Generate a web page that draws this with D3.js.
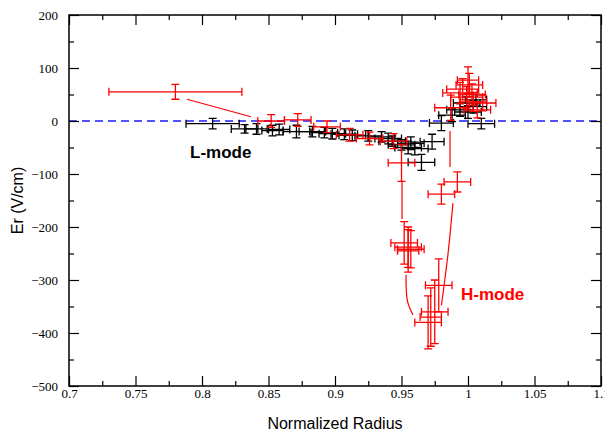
<!DOCTYPE html>
<html>
<head>
<meta charset="utf-8">
<script src="https://cdn.jsdelivr.net/npm/d3@7"></script>
<style>
  body { margin: 0; background: #fff; }
  svg text.tick-label { font-family: "Liberation Serif", serif !important; font-size: 13px !important; }
</style>
</head>
<body>
<div id="chart"></div>
<script>
// Size of the canvas
var width = 605, height = 434;
var margin = {top: 15, right: 4, bottom: 48, left: 69};

// Each point: [radius, Er, radius error, Er error]
var lModePoints = [
  [0.808, -5, 0.02, 10], [0.832, -15, 0.01, 8], [0.841, -15, 0.008, 10],
  [0.853, -18, 0.008, 10], [0.858, -16, 0.008, 10], [0.871, -20, 0.01, 12],
  [0.883, -20, 0.01, 10], [0.892, -22, 0.01, 10], [0.907, -25, 0.01, 10],
  [0.913, -27, 0.01, 10], [0.925, -28, 0.01, 10], [0.935, -30, 0.01, 10],
  [0.943, -38, 0.01, 10], [0.950, -45, 0.01, 10], [0.955, -50, 0.01, 12],
  [0.960, -52, 0.01, 12], [0.965, -78, 0.01, 15], [0.973, -39, 0.009, 14],
  [0.980, -4, 0.009, 14], [0.988, 11, 0.01, 12], [0.994, 21, 0.01, 12],
  [0.999, 34, 0.01, 12], [1.000, 17, 0.01, 12], [1.004, 27, 0.01, 12],
  [1.010, -5, 0.01, 10], [1.006, 40, 0.008, 10],
  [0.898, -24, 0.01, 10], [0.940, -33, 0.01, 10], [0.957, -42, 0.01, 12]
];

var redEdgePoints = [
  [0.780, 55, 0.05, 14], [0.852, 0, 0.01, 12], [0.872, 2, 0.01, 12],
  [0.894, -11, 0.01, 11], [0.911, -26, 0.01, 12], [0.926, -33, 0.01, 12],
  [0.944, -38, 0.01, 14], [0.950, -79, 0.01, 35]
];

var redTopPoints = [
  [0.987, 25, 0.012, 24], [0.994, 53, 0.013, 20], [1.000, 77, 0.008, 25],
  [1.001, 68, 0.01, 22], [0.999, 45, 0.012, 20], [1.004, 36, 0.01, 18],
  [1.007, 21, 0.01, 15], [1.011, 34, 0.01, 15], [0.996, 60, 0.012, 20],
  [1.003, 50, 0.01, 20]
];

var hModePoints = [
  [0.992, -115, 0.01, 19], [0.980, -138, 0.01, 19],
  [0.952, -230, 0.01, 40], [0.955, -238, 0.01, 38], [0.957, -242, 0.01, 35],
  [0.955, -245, 0.008, 40],
  [0.978, -310, 0.01, 50], [0.975, -360, 0.01, 60], [0.970, -380, 0.01, 50],
  [0.972, -370, 0.008, 55]
];

// Thin red connector lines
var connectors = [
  [[0.7887, 41], [0.8368, 8]],
  [[0.9504, -115], [0.9504, -185]],
  [[0.9865, -19], [0.9865, -87]],
  [[0.9887, -155], [0.985, -250], [0.980, -348]],
  [[0.9534, -290], [0.9545, -340], [0.9586, -366]]
];

var xTicks = [0.7, 0.75, 0.8, 0.85, 0.9, 0.95, 1, 1.05, 1.1];
var yTicks = [200, 100, 0, -100, -200, -300, -400, -500];

var sans = "'Liberation Sans', Arial, sans-serif";

var svg = d3.select("#chart").append("svg")
    .attr("width", width)
    .attr("height", height);

var x = d3.scaleLinear().domain([0.7, 1.1]).range([margin.left, width - margin.right]);
var y = d3.scaleLinear().domain([-500, 200]).range([height - margin.bottom, margin.top]);

// Zero line
svg.append("path")
    .attr("d", "M" + x(0.7) + "," + y(0) + "H" + x(1.1))
    .attr("fill", "none")
    .style("stroke", "#1a1aff")
    .style("stroke-width", "1.5px")
    .style("stroke-dasharray", "8,5");

// Error bars
function drawErrors(points, color) {
    var g = svg.append("g")
        .attr("stroke", color)
        .attr("stroke-width", 1.3)
        .attr("fill", "none");
    var cap = 4;
    points.forEach(function(p) {
        var cx = x(p[0]), cy = y(p[1]);
        var x0 = x(p[0] - p[2]), x1 = x(p[0] + p[2]);
        var y0 = y(p[1] - p[3]), y1 = y(p[1] + p[3]);
        var path = "M" + x0 + "," + cy + "H" + x1 +
            "M" + x0 + "," + (cy - cap) + "V" + (cy + cap) +
            "M" + x1 + "," + (cy - cap) + "V" + (cy + cap) +
            "M" + cx + "," + y0 + "V" + y1 +
            "M" + (cx - cap) + "," + y0 + "H" + (cx + cap) +
            "M" + (cx - cap) + "," + y1 + "H" + (cx + cap);
        g.append("path").attr("d", path);
    });
}

drawErrors(lModePoints, "#000");
drawErrors(redEdgePoints, "#ff0000");
drawErrors(redTopPoints, "#ff0000");
drawErrors(hModePoints, "#ff0000");

var line = d3.line()
    .x(function(d) { return x(d[0]); })
    .y(function(d) { return y(d[1]); })
    .curve(d3.curveCatmullRom);

svg.selectAll(".connector")
    .data(connectors)
    .join("path")
    .attr("class", "connector")
    .attr("d", line)
    .attr("fill", "none")
    .attr("stroke", "#ff0000")
    .attr("stroke-width", 1.2);

// Frame and ticks
function addAxis(axis, transform, showLabels) {
    var g = svg.append("g").attr("transform", transform).call(axis);
    g.attr("font-family", "Liberation Serif").attr("font-size", 13);
    g.select(".domain").remove();
    g.selectAll("line").attr("stroke", "#000").attr("stroke-width", 1.2);
    if (!showLabels) g.selectAll("text").remove();
    else g.selectAll("text").attr("fill", "#000").classed("tick-label", true);
    return g;
}

var minorX = d3.range(0.725, 1.1, 0.05);
var minorY = d3.range(150, -500, -100);

// Bottom
addAxis(d3.axisBottom(x).tickValues(xTicks).tickSize(-10).tickPadding(4)
    .tickFormat(d3.format("~g")), "translate(0," + y(-500) + ")", true)
    .selectAll("text").attr("y", 3);
addAxis(d3.axisBottom(x).tickValues(minorX).tickSize(-5), "translate(0," + y(-500) + ")", false);
// Top
addAxis(d3.axisTop(x).tickValues(xTicks).tickSize(-10), "translate(0," + y(200) + ")", false);
addAxis(d3.axisTop(x).tickValues(minorX).tickSize(-5), "translate(0," + y(200) + ")", false);
// Left
addAxis(d3.axisLeft(y).tickValues(yTicks).tickSize(-10), "translate(" + x(0.7) + ",0)", true)
    .selectAll("text").attr("x", -11);
addAxis(d3.axisLeft(y).tickValues(minorY).tickSize(-5), "translate(" + x(0.7) + ",0)", false);
// Right
addAxis(d3.axisRight(y).tickValues(yTicks).tickSize(-10), "translate(" + x(1.1) + ",0)", false);
addAxis(d3.axisRight(y).tickValues(minorY).tickSize(-5), "translate(" + x(1.1) + ",0)", false);

svg.append("rect")
    .attr("x", x(0.7)).attr("y", y(200))
    .attr("width", x(1.1) - x(0.7)).attr("height", y(-500) - y(200))
    .attr("fill", "none")
    .attr("stroke", "#000")
    .attr("stroke-width", 1.5);

// Titles
svg.append("text")
    .attr("x", (x(0.7) + x(1.1)) / 2)
    .attr("y", 429)
    .attr("text-anchor", "middle")
    .style("font-family", sans)
    .style("font-size", "16px")
    .text("Normalized Radius");

svg.append("text")
    .attr("transform", "translate(23," + (y(200) + y(-500)) / 2 + ") rotate(-90)")
    .attr("text-anchor", "middle")
    .style("font-family", sans)
    .style("font-size", "16px")
    .text("Er (V/cm)");

// Labels
svg.append("text")
    .attr("x", 190).attr("y", 158)
    .style("font-family", sans)
    .style("font-weight", "bold")
    .style("font-size", "17px")
    .attr("fill", "#000")
    .text("L-mode");

svg.append("text")
    .attr("x", 461).attr("y", 300)
    .style("font-family", sans)
    .style("font-weight", "bold")
    .style("font-size", "17px")
    .attr("fill", "#ff0000")
    .text("H-mode");
</script>
</body>
</html>
